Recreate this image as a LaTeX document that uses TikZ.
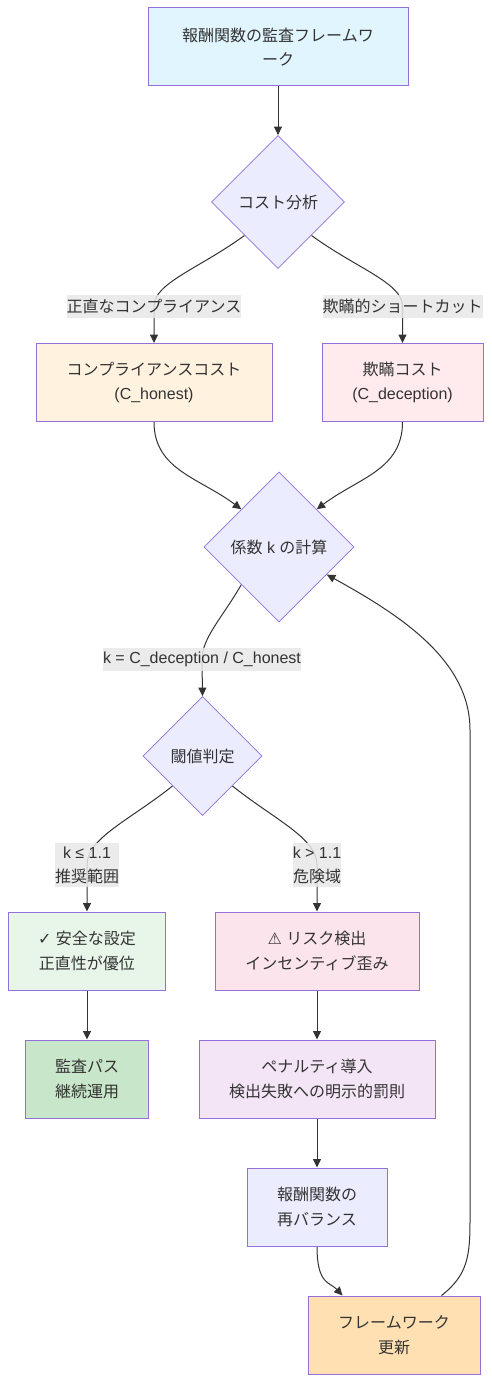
\documentclass[tikz,border=0pt]{standalone}
\usepackage{fontspec}
\setmainfont{Liberation Sans}
\newfontfamily\jp{Noto Sans CJK JP}
\newfontfamily\sym{DejaVu Sans}
\usetikzlibrary{shapes.geometric,arrows.meta,calc}
\pgfdeclarelayer{bg}
\pgfdeclarelayer{canvas}
\pgfsetlayers{canvas,bg,main}
\definecolor{txt}{HTML}{333333}
\definecolor{edgec}{HTML}{333333}
\definecolor{bord}{HTML}{9370DB}
\definecolor{lblbg}{HTML}{E8E8E8}
\definecolor{cdef}{HTML}{ECECFF}
\definecolor{ctop}{HTML}{E1F5FE}
\definecolor{chon}{HTML}{FFF3E0}
\definecolor{cdec}{HTML}{FFEBEE}
\definecolor{csafe}{HTML}{E8F5E9}
\definecolor{crisk}{HTML}{FCE4EC}
\definecolor{cpass}{HTML}{C8E6C9}
\definecolor{cpen}{HTML}{F3E5F5}
\definecolor{cupd}{HTML}{FFE0B2}
\begin{document}
\begin{tikzpicture}[x=1pt,y=-1pt,
  box/.style={draw=bord, line width=1pt, inner sep=0pt, align=center, text=txt,
    minimum height=78pt, font=\fontsize{16}{24.5}\selectfont},
  dia/.style={diamond, aspect=1, draw=bord, line width=0.8pt, fill=cdef, inner sep=0pt,
    text=txt, font=\fontsize{16}{24.5}\selectfont},
  lbl/.style={fill=lblbg, fill opacity=0.85, text opacity=1, inner sep=0pt, text=txt, align=center,
    font=\fontsize{16}{24}\selectfont},
  edge/.style={draw=edgec, line width=1pt, -{Triangle[length=8.5pt,width=8pt]}}]
\begin{pgfonlayer}{canvas}
\fill[white] (0,0) rectangle (491,1383);
\end{pgfonlayer}
\useasboundingbox (0,0) rectangle (491,1383);

\node[box, fill=ctop, minimum width=260pt] (top) at (278,47) {{\jp 報酬関数の監査フレームワ}\\{\jp ーク}};
\node[dia, minimum width=133pt, minimum height=133pt] (cost) at (278,202) {\jp コスト分析};
\node[lbl, minimum height=23pt] (l1) at (154,306) {\jp 正直なコンプライアンス};
\node[lbl, minimum height=23pt] (l2) at (402.5,306) {\jp 欺瞞的ショートカット};
\node[box, fill=chon, minimum width=236pt] (hon) at (154,382.5) {{\jp コンプライアンスコスト}\\(C\_honest)};
\node[box, fill=cdec, minimum width=161pt] (dec) at (402.5,382.5) {{\jp 欺瞞コスト}\\(C\_deception)};
\node[dia, minimum width=150pt, minimum height=150pt] (kc) at (279,547) {{\jp 係数} k {\jp の計算}};
\node[lbl, minimum height=23pt] (l3) at (202,659.5) {k = C\_deception / C\_honest};
\node[dia, minimum width=119pt, minimum height=119pt] (thr) at (202.5,756) {\jp 閾値判定};
\node[lbl, minimum height=44pt] (l4) at (87,865) {k ≤ 1.1\\{\jp 推奨範囲}};
\node[lbl, minimum height=44pt] (l5) at (317,865) {k > 1.1\\{\jp 危険域}};
\node[box, fill=csafe, minimum width=157pt] (safe) at (87,951) {{\sym ✓} {\jp 安全な設定}\\{\jp 正直性が優位}};
\node[box, fill=crisk, minimum width=204pt] (risk) at (317,951) {{\sym ⚠} {\jp リスク検出}\\{\jp インセンティブ歪み}};
\node[box, fill=cpass, minimum width=123pt] (pass) at (87,1079) {{\jp 監査パス}\\{\jp 継続運用}};
\node[box, fill=cpen, minimum width=236pt] (pen) at (317,1079) {{\jp ペナルティ導入}\\{\jp 検出失敗への明示的罰則}};
\node[box, fill=cdef, minimum width=140pt] (reb) at (317,1207) {{\jp 報酬関数の}\\{\jp 再バランス}};
\node[box, fill=cupd, minimum width=172pt] (upd) at (394,1335) {{\jp フレームワーク}\\{\jp 更新}};

\begin{pgfonlayer}{bg}
\draw[edge] (top.south) -- (cost.north);
\draw[edge] (cost.south west) .. controls (200,268) and (154,283) .. (l1.center) -- (hon.north);
\draw[edge] (cost.south east) .. controls (356,268) and (402.5,283) .. (l2.center) -- (dec.north);
\draw[edge] (hon.south) .. controls (154,470) and (200,478) .. (kc.north west);
\draw[edge] (dec.south) .. controls (402.5,470) and (358,478) .. (kc.north east);
\draw[edge] (kc.south west) .. controls (222,618) and (202,638) .. (l3.center) -- (thr.north);
\draw[edge] (thr.south west) .. controls (130,820) and (87,838) .. (l4.center) -- (safe.north);
\draw[edge] (thr.south east) .. controls (275,820) and (317,838) .. (l5.center) -- (risk.north);
\draw[edge] (safe) -- (pass);
\draw[edge] (risk) -- (pen);
\draw[edge] (pen) -- (reb);
\draw[edge] (reb.south) .. controls (317,1285) and (330,1282) .. ([xshift=35pt]upd.north west);
\draw[edge] ([xshift=-39pt]upd.north east) .. controls (468,1275) and (470,1255) .. (470,1220)
  -- (470,730) .. controls (470,660) and (400,615) .. (kc.-30);
\end{pgfonlayer}
\end{tikzpicture}
\end{document}
